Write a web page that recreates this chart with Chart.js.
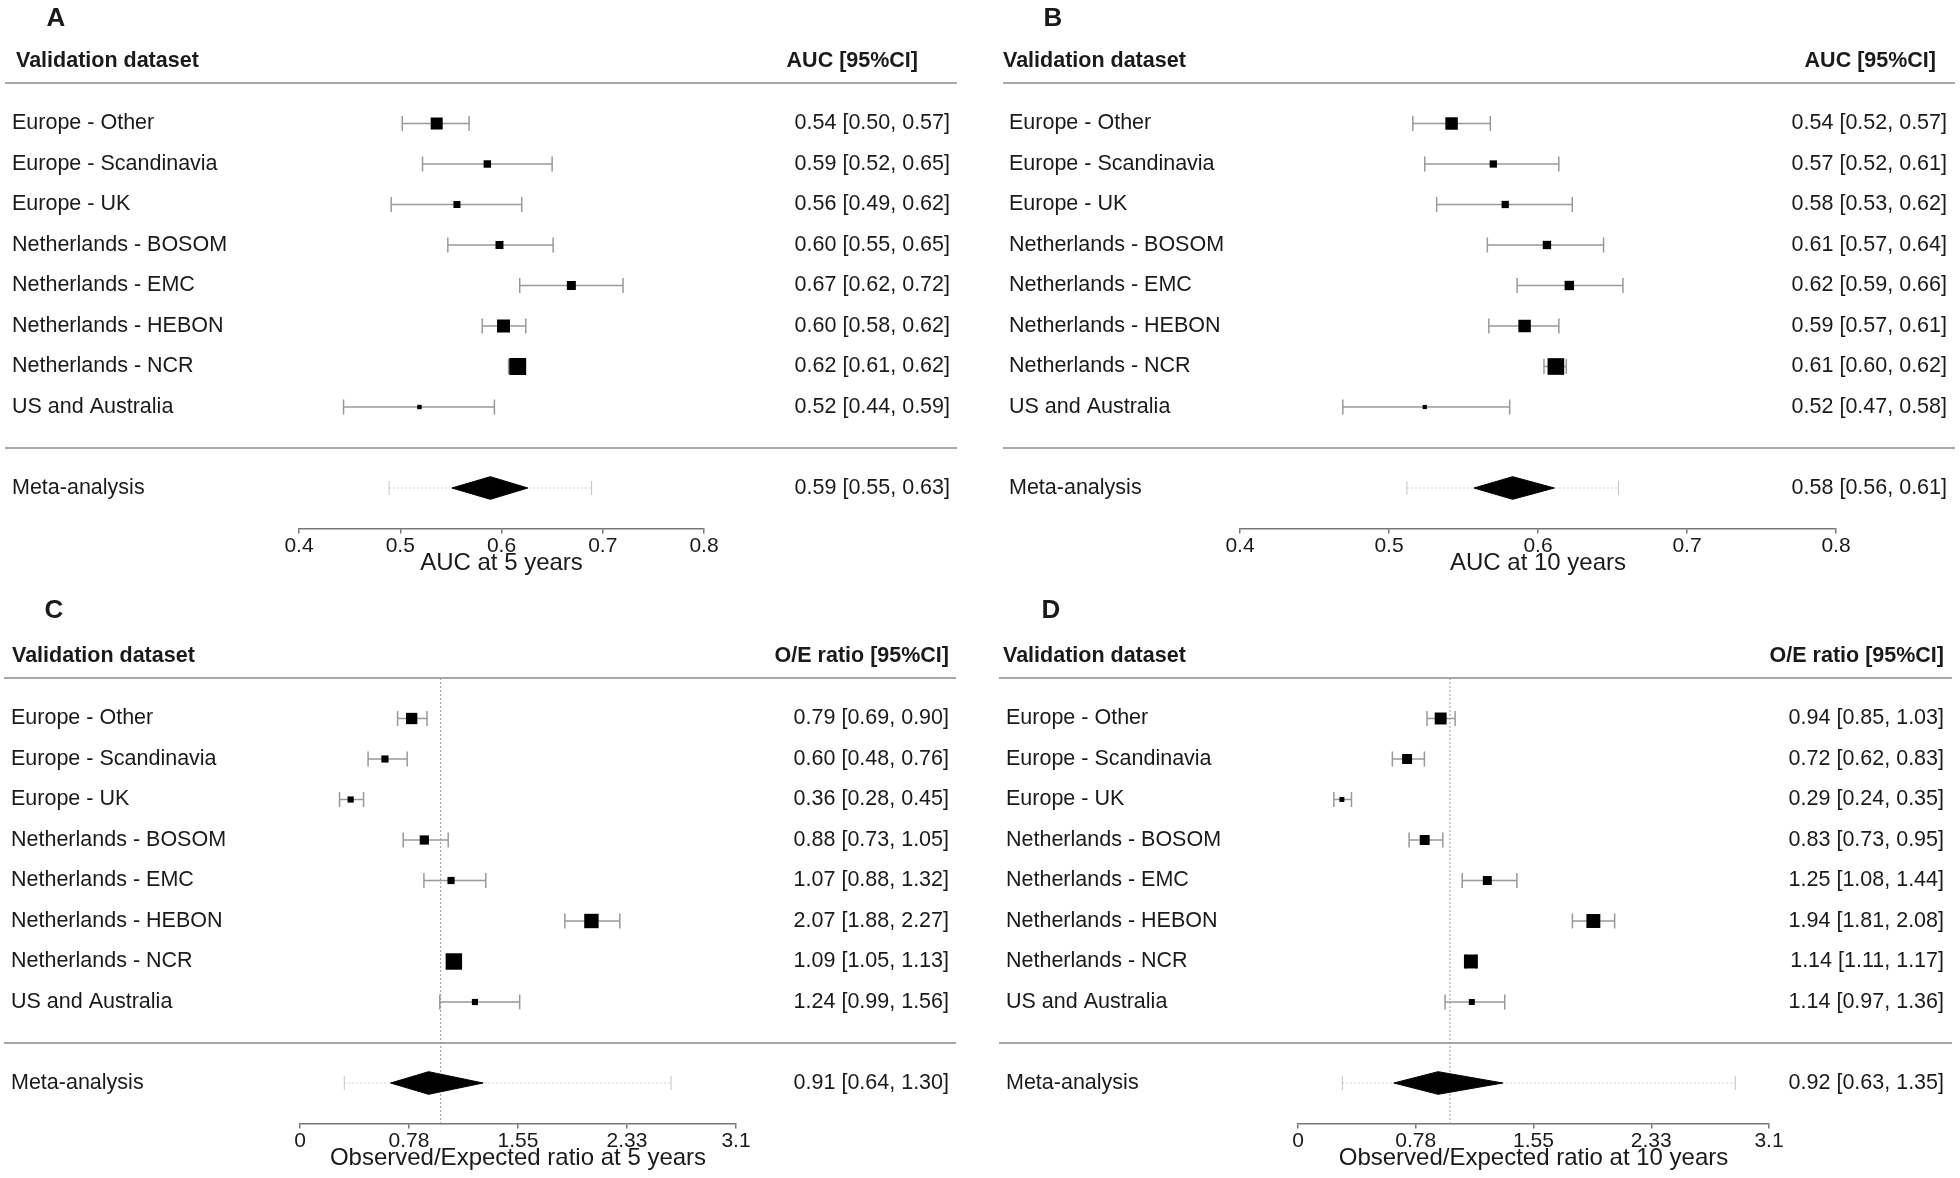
<!DOCTYPE html>
<html>
<head>
<meta charset="utf-8">
<script src="https://cdn.jsdelivr.net/npm/chart.js@4.4.1/dist/chart.umd.min.js"></script>
<style>
  html, body { margin: 0; padding: 0; background: #fff; }
  .panel { position: absolute; width: 980px; height: 583px; }
</style>
</head>
<body>
<div class="panel" style="left:0;top:0"><canvas id="chart-a" width="980" height="583"></canvas></div>
<div class="panel" style="left:980px;top:0"><canvas id="chart-b" width="980" height="583"></canvas></div>
<div class="panel" style="left:0;top:595px"><canvas id="chart-c" width="980" height="583"></canvas></div>
<div class="panel" style="left:980px;top:595px"><canvas id="chart-d" width="980" height="583"></canvas></div>
<script>
const studies = [
  'Europe - Other',
  'Europe - Scandinavia',
  'Europe - UK',
  'Netherlands - BOSOM',
  'Netherlands - EMC',
  'Netherlands - HEBON',
  'Netherlands - NCR',
  'US and Australia',
];
const metaLabel = 'Meta-analysis';

// AUC at 5 years
const auc5 = [0.536, 0.586, 0.556, 0.598, 0.669, 0.602, 0.616, 0.519];
const auc5Low = [0.502, 0.522, 0.491, 0.547, 0.618, 0.581, 0.607, 0.444];
const auc5High = [0.568, 0.650, 0.620, 0.651, 0.720, 0.624, 0.623, 0.593];
const auc5Weight = [16.5, 6.4, 5.6, 7.3, 9.3, 19.4, 33.1, 2.3];
const auc5Meta = [0.589, 0.551, 0.626];
const auc5Pred = [0.489, 0.689];

// AUC at 10 years
const auc10 = [0.542, 0.570, 0.578, 0.606, 0.621, 0.591, 0.612, 0.524];
const auc10Low = [0.516, 0.524, 0.532, 0.566, 0.586, 0.567, 0.604, 0.469];
const auc10High = [0.568, 0.614, 0.623, 0.644, 0.657, 0.614, 0.619, 0.581];
const auc10Weight = [17.9, 6.1, 6.1, 8.0, 10.1, 17.9, 31.9, 2.0];
const auc10Meta = [0.583, 0.557, 0.611];
const auc10Pred = [0.512, 0.654];

// O/E ratio at 5 years
const oe5 = [0.794, 0.604, 0.360, 0.884, 1.074, 2.072, 1.094, 1.244];
const oe5Low = [0.694, 0.484, 0.281, 0.734, 0.881, 1.883, 1.051, 0.994];
const oe5High = [0.903, 0.762, 0.452, 1.054, 1.321, 2.274, 1.134, 1.562];
const oe5Weight = [14.7, 5.9, 4.4, 9.8, 5.9, 23.8, 31.1, 4.4];
const oe5Meta = [0.914, 0.644, 1.302];
const oe5Pred = [0.315, 2.638];

// O/E ratio at 10 years
const oe10 = [0.939, 0.718, 0.289, 0.834, 1.246, 1.944, 1.138, 1.144];
const oe10Low = [0.849, 0.621, 0.236, 0.731, 1.081, 1.806, 1.106, 0.968];
const oe10High = [1.034, 0.832, 0.352, 0.953, 1.441, 2.084, 1.172, 1.361];
const oe10Weight = [16.4, 11.4, 2.8, 11.4, 9.2, 22.3, 22.3, 4.1];
const oe10Meta = [0.922, 0.631, 1.348];
const oe10Pred = [0.292, 2.878];

const aucTicks = [0.4, 0.5, 0.6, 0.7, 0.8];
const aucTickLabels = ['0.4', '0.5', '0.6', '0.7', '0.8'];
const oeTicks = [0, 0.775, 1.55, 2.325, 3.1];
const oeTickLabels = ['0', '0.78', '1.55', '2.33', '3.1'];

const FONT = '"Liberation Sans", Arial, Helvetica, sans-serif';
const TEXT = '#1a1a1a';
const META_ROW = 9;
Chart.defaults.font.family = FONT;
Chart.defaults.color = TEXT;

const fmt = v => v.toFixed(2);

const forestText = {
  id: 'forestText',
  beforeDatasetsDraw(chart, args, o) {
    const { ctx, scales: { y } } = chart;
    ctx.save();
    ctx.strokeStyle = '#a8a8a8';
    ctx.lineWidth = 2;
    [-1, 8].forEach(r => {
      const py = Math.round(y.getPixelForValue(r));
      ctx.beginPath();
      ctx.moveTo(o.ruleLeft, py);
      ctx.lineTo(o.ruleRight, py);
      ctx.stroke();
    });
    ctx.restore();
  },
  afterDraw(chart, args, o) {
    const { ctx, scales: { y } } = chart;
    ctx.save();
    ctx.fillStyle = TEXT;
    ctx.textBaseline = 'middle';

    ctx.font = 'bold 26px ' + FONT;
    ctx.textAlign = 'center';
    ctx.fillText(o.letter, o.letterX, o.letterY);

    ctx.font = 'bold 21.5px ' + FONT;
    const hy = y.getPixelForValue(-1.55);
    ctx.textAlign = 'left';
    ctx.fillText('Validation dataset', o.headerLeft, hy);
    ctx.textAlign = 'right';
    ctx.fillText(o.header, o.headerRight, hy);

    ctx.font = '21.5px ' + FONT;
    o.est.forEach((v, i) => {
      const py = y.getPixelForValue(i);
      ctx.textAlign = 'left';
      ctx.fillText(studies[i], o.labelLeft, py);
      ctx.textAlign = 'right';
      ctx.fillText(`${fmt(v)} [${fmt(o.low[i])}, ${fmt(o.high[i])}]`, o.valueRight, py);
    });
    const my = y.getPixelForValue(META_ROW);
    ctx.textAlign = 'left';
    ctx.fillText(metaLabel, o.labelLeft, my);
    ctx.textAlign = 'right';
    ctx.fillText(`${fmt(o.meta[0])} [${fmt(o.meta[1])}, ${fmt(o.meta[2])}]`, o.valueRight, my);
    ctx.restore();
  }
};

function makePanel(id, p) {
  const datasets = [];
  // study boxes
  datasets.push({
    data: p.est.map((v, i) => ({ x: v, y: i })),
    showLine: false,
    pointStyle: 'rect',
    pointRadius: p.weight.map(w => 2.95 * Math.sqrt(w) / Math.SQRT2),
    pointBackgroundColor: '#000',
    pointBorderColor: '#000',
    pointBorderWidth: 0,
  });
  // pooled estimate diamond
  const [m, mLo, mHi] = p.meta;
  datasets.push({
    data: [
      { x: mLo, y: META_ROW }, { x: m, y: META_ROW - 0.28 },
      { x: mHi, y: META_ROW }, { x: m, y: META_ROW + 0.28 }, { x: mLo, y: META_ROW },
    ],
    borderColor: '#000',
    backgroundColor: '#000',
    borderWidth: 1,
    fill: 'shape',
    pointRadius: 0,
  });
  // confidence intervals
  p.est.forEach((v, i) => {
    datasets.push({
      data: [{ x: p.low[i], y: i }, { x: p.high[i], y: i }],
      borderColor: '#999',
      borderWidth: 1.5,
      pointStyle: 'line',
      pointRotation: 90,
      pointRadius: 7.5,
      pointBorderColor: '#999',
      pointBorderWidth: 1.5,
    });
  });
  // prediction interval
  datasets.push({
    data: [{ x: p.pred[0], y: META_ROW }, { x: p.pred[1], y: META_ROW }],
    borderColor: '#cfcfcf',
    borderWidth: 1,
    borderDash: [2, 2],
    pointStyle: 'line',
    pointRotation: 90,
    pointRadius: 7,
    pointBorderColor: '#c4c4c4',
    pointBorderWidth: 1,
  });
  // line of no miscalibration
  if (p.refLine !== undefined) {
    datasets.push({
      data: [{ x: p.refLine, y: -1 }, { x: p.refLine, y: 10 }],
      borderColor: '#9a9a9a',
      borderWidth: 1,
      borderDash: [2, 2],
      pointRadius: 0,
    });
  }
  datasets.forEach(d => { d.clip = false; });

  const first = p.ticks[0];
  const last = p.ticks[p.ticks.length - 1];
  new Chart(document.getElementById(id), {
    type: 'line',
    data: { datasets },
    options: {
      responsive: false,
      animation: false,
      events: [],
      layout: { padding: { left: p.left, right: 980 - p.right, top: 83, bottom: 7.5 } },
      plugins: {
        legend: { display: false },
        tooltip: { enabled: false },
        forestText: {
          letter: p.letter, letterX: p.letterX, letterY: p.letterY,
          header: p.header, headerLeft: p.headerLeft, headerRight: p.headerRight,
          labelLeft: p.labelLeft, valueRight: p.valueRight,
          ruleLeft: p.ruleLeft, ruleRight: p.ruleRight,
          est: p.est, low: p.low, high: p.high, meta: p.meta,
        },
      },
      scales: {
        x: {
          type: 'linear',
          min: first,
          max: last,
          afterBuildTicks: s => { s.ticks = p.ticks.map(v => ({ value: v })); },
          ticks: {
            callback: (v, i) => p.tickLabels[i],
            font: { size: 21 },
            color: TEXT,
            padding: 0,
            maxRotation: 0,
            autoSkip: false,
          },
          grid: { drawOnChartArea: false, drawTicks: true, tickLength: 5, color: '#777', lineWidth: 1.5 },
          border: { display: true, color: '#777', width: 1.5 },
          title: {
            display: true,
            text: p.xTitle,
            font: { size: 24, lineHeight: 1 },
            color: TEXT,
            padding: { top: -7.2, bottom: 0 },
          },
        },
        y: { type: 'linear', min: -1, max: 10, reverse: true, display: false },
      },
    },
    plugins: [forestText],
  });
}

makePanel('chart-a', {
  est: auc5, low: auc5Low, high: auc5High, weight: auc5Weight, meta: auc5Meta, pred: auc5Pred,
  ticks: aucTicks, tickLabels: aucTickLabels, xTitle: 'AUC at 5 years', header: 'AUC [95%CI]',
  left: 299, right: 704, letter: 'A', letterX: 56, letterY: 19,
  headerLeft: 16, headerRight: 918, labelLeft: 12, valueRight: 950, ruleLeft: 5, ruleRight: 957,
});
makePanel('chart-b', {
  est: auc10, low: auc10Low, high: auc10High, weight: auc10Weight, meta: auc10Meta, pred: auc10Pred,
  ticks: aucTicks, tickLabels: aucTickLabels, xTitle: 'AUC at 10 years', header: 'AUC [95%CI]',
  left: 260, right: 856, letter: 'B', letterX: 73, letterY: 19,
  headerLeft: 23, headerRight: 956, labelLeft: 29, valueRight: 967, ruleLeft: 23, ruleRight: 975,
});
makePanel('chart-c', {
  est: oe5, low: oe5Low, high: oe5High, weight: oe5Weight, meta: oe5Meta, pred: oe5Pred,
  ticks: oeTicks, tickLabels: oeTickLabels, xTitle: 'Observed/Expected ratio at 5 years',
  header: 'O/E ratio [95%CI]', refLine: 1,
  left: 300, right: 736, letter: 'C', letterX: 54, letterY: 15.5,
  headerLeft: 12, headerRight: 949, labelLeft: 11, valueRight: 949, ruleLeft: 4, ruleRight: 956,
});
makePanel('chart-d', {
  est: oe10, low: oe10Low, high: oe10High, weight: oe10Weight, meta: oe10Meta, pred: oe10Pred,
  ticks: oeTicks, tickLabels: oeTickLabels, xTitle: 'Observed/Expected ratio at 10 years',
  header: 'O/E ratio [95%CI]', refLine: 1,
  left: 318, right: 789, letter: 'D', letterX: 71, letterY: 15.5,
  headerLeft: 23, headerRight: 964, labelLeft: 26, valueRight: 964, ruleLeft: 19, ruleRight: 972,
});
</script>
</body>
</html>
